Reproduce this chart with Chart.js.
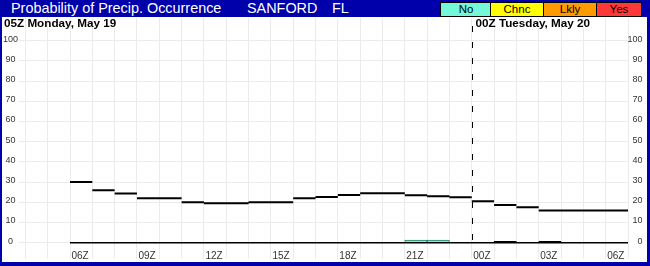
<!DOCTYPE html>
<html>
<head>
<meta charset="utf-8">
<script src="https://cdn.jsdelivr.net/npm/chart.js@4.4.1/dist/chart.umd.min.js"></script>
<style>
  body { margin: 0; background: #fff; }
  #frame { position: relative; width: 650px; height: 266px; background: #0000aa; overflow: hidden;
           font-family: "Liberation Sans", Arial, sans-serif; }
  .t { position: absolute; top: 0; height: 17px; line-height: 17px; color: #fff; font-size: 14.4px; white-space: nowrap; }
  .box { position: absolute; top: 2px; height: 13px; line-height: 13px; border: 1px solid #000;
         font-size: 11.5px; text-align: center; color: #000; box-sizing: content-box; }
  #plot { position: absolute; left: 2px; top: 17px; width: 645px; height: 245px; background: #fff; }
</style>
</head>
<body>
<div id="frame">
  <div class="t" style="left:11px">Probability of Precip. Occurrence</div>
  <div class="t" style="left:247px">SANFORD</div>
  <div class="t" style="left:332px">FL</div>
  <div id="legend"></div>
  <div id="plot"><canvas id="chart" width="645" height="245"></canvas></div>
</div>
<script>
// hours counted from 00Z Monday May 19; each value holds for one hour
const popHours  = [6, 7, 8, 9, 10, 11, 12, 13, 14, 15, 16, 17, 18, 19, 20, 21, 22, 23, 24, 25, 26, 27, 28, 29, 30];
const popValues = [30, 26, 24.4, 22, 22, 20, 19.5, 19.5, 20, 20, 22, 22.6, 23.6, 24.5, 24.5, 23.5, 23, 22.5, 20.5, 18.7, 17.5, 16, 16, 16, 16];
const barValues = [0, 0, 0, 0, 0, 0, 0, 0, 0, 0, 0, 0, 0, 0, 0, 1.3, 1.3, 0, 0, 0.7, 0, 0.7, 0, 0, 0];
const barFills  = ['', '', '', '', '', '', '', '', '', '', '', '', '', '', '', 'No', 'No', '', '', 'dark', '', 'dark', '', '', ''];

const gridHours  = [4, 5, 6, 7, 8, 9, 10, 11, 12, 13, 14, 15, 16, 17, 18, 19, 20, 21, 22, 23, 24, 25, 26, 27, 28, 29, 30, 31];
const labelHours = [6, 9, 12, 15, 18, 21, 24, 27, 30];
const hourLabels = ['06Z', '09Z', '12Z', '15Z', '18Z', '21Z', '00Z', '03Z', '06Z'];
const yTicks     = [0, 10, 20, 30, 40, 50, 60, 70, 80, 90, 100];

const startText = '05Z Monday, May 19';
const dayHours  = [24];
const dayTexts  = ['00Z Tuesday, May 20'];

const catNames  = ['No', 'Chnc', 'Lkly', 'Yes'];
const catColors = ['#74f8d8', '#ffff00', '#ff9a00', '#ff3838'];
const catLefts  = [440, 490, 543, 596];
const catWidths = [50, 52, 52, 44];

// legend boxes in the title bar
const legend = document.getElementById('legend');
catNames.forEach((name, i) => {
  const d = document.createElement('div');
  d.className = 'box';
  d.style.left = catLefts[i] + 'px';
  d.style.width = catWidths[i] + 'px';
  d.style.background = catColors[i];
  d.textContent = name;
  legend.appendChild(d);
});

// each hour becomes its own horizontal piece, broken by a gap
function hourSegments(hours, values) {
  const pts = [];
  hours.forEach((h, i) => {
    pts.push({ x: h, y: values[i] }, { x: h + 1, y: values[i] }, { x: h + 1, y: null });
  });
  return pts;
}

const fillFor   = { No: catColors[0], dark: '#000', '': 'rgba(0,0,0,0)' };
const strokeFor = { No: '#2a7a66', dark: '#000', '': 'rgba(0,0,0,0)' };

const dayMarks = {
  id: 'dayMarks',
  afterDatasetsDraw(chart) {
    const { ctx, chartArea, scales } = chart;
    ctx.save();
    ctx.fillStyle = '#000';
    ctx.font = 'bold 11.7px "Liberation Sans", Arial, sans-serif';
    ctx.textBaseline = 'alphabetic';
    ctx.fillText(startText, 2, 9.7);
    dayHours.forEach((h, i) => {
      const x = Math.round(scales.x.getPixelForValue(h)) + 0.5;
      ctx.strokeStyle = '#000';
      ctx.lineWidth = 1;
      ctx.setLineDash([6, 10]);
      ctx.beginPath();
      ctx.moveTo(x, chartArea.top + 8);
      ctx.lineTo(x, scales.y.getPixelForValue(0) - 2);
      ctx.stroke();
      ctx.fillText(dayTexts[i], x + 3, 9.7);
    });
    ctx.setLineDash([]);
    ctx.font = '10px "Liberation Sans", Arial, sans-serif';
    ctx.fillStyle = '#333';
    labelHours.forEach((h, i) => {
      ctx.fillText(hourLabels[i], scales.x.getPixelForValue(h) + 1.5, chartArea.bottom);
    });
    ctx.restore();
  }
};

Chart.defaults.font.family = '"Liberation Sans", Arial, sans-serif';

function noPad(s) {
  s.paddingTop = 0; s.paddingBottom = 0; s.paddingLeft = 0; s.paddingRight = 0;
}

const yCommon = {
  type: 'linear',
  min: -8.07,
  max: 111.24,
  afterBuildTicks: s => { s.ticks = yTicks.map(v => ({ value: v })); },
  border: { display: false },
  ticks: { font: { size: 9 }, color: '#333', padding: 1, labelOffset: -1.5 }
};

new Chart(document.getElementById('chart'), {
  data: {
    datasets: [
      {
        type: 'bar',
        data: popHours.map((h, i) => ({ x: h + 0.5, y: barValues[i] })),
        backgroundColor: barFills.map(f => fillFor[f]),
        borderColor: barFills.map(f => strokeFor[f]),
        borderWidth: 1,
        barPercentage: 1,
        categoryPercentage: 1,
        order: 3
      },
      {
        type: 'line',
        data: hourSegments(popHours, popValues.map(() => 0)),
        borderColor: '#000',
        borderWidth: 1.4,
        pointRadius: 0,
        spanGaps: false,
        order: 2
      },
      {
        type: 'line',
        data: hourSegments(popHours, popValues),
        borderColor: '#000',
        borderWidth: 2,
        pointRadius: 0,
        spanGaps: false,
        borderCapStyle: 'butt',
        order: 1
      }
    ]
  },
  options: {
    responsive: false,
    animation: false,
    events: [],
    layout: { padding: { left: 0, right: 4.5, top: 1, bottom: 3 } },
    plugins: { legend: { display: false }, tooltip: { enabled: false } },
    scales: {
      x: {
        type: 'linear',
        offset: false,
        min: 3.715,
        max: 31,
        afterBuildTicks: s => { s.ticks = gridHours.map(v => ({ value: v })); },
        afterFit: s => { s.height = 0; noPad(s); },
        grid: { color: '#ebebeb', drawTicks: false, offset: false },
        border: { display: false },
        ticks: { display: false }
      },
      y: Object.assign({}, yCommon, {
        position: 'left',
        afterFit: s => { s.width = 17; noPad(s); },
        grid: { color: '#ebebeb', drawTicks: false },
        ticks: Object.assign({}, yCommon.ticks, { crossAlign: 'center' })
      }),
      y2: Object.assign({}, yCommon, {
        position: 'right',
        afterFit: s => { s.width = 14.5; noPad(s); },
        grid: { display: false, drawTicks: false },
        ticks: Object.assign({}, yCommon.ticks, { crossAlign: 'far' })
      })
    }
  },
  plugins: [dayMarks]
});
</script>
</body>
</html>
